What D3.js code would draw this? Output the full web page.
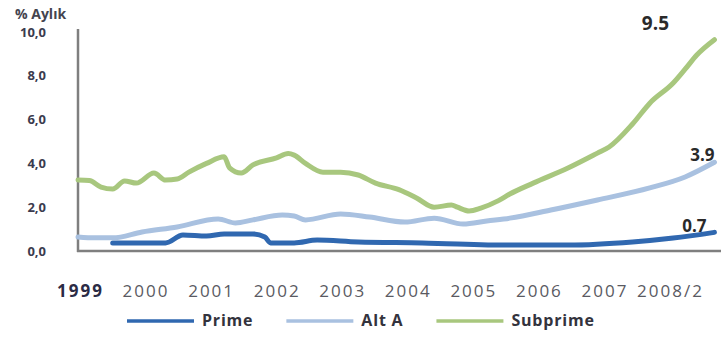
<!DOCTYPE html>
<html>
<head>
<meta charset="utf-8">
<script src="https://cdn.jsdelivr.net/npm/d3@7"></script>
<style>
  body { margin: 0; background: #fff; }
  svg { display: block; font-family: "Open Sans", sans-serif; }
</style>
</head>
<body>
<svg width="721" height="338"></svg>
<script>
// monthly readings (approximate), "YYYY-MM" -> % aylik
const subprime = [
  ["1999-01", 3.24], ["1999-03", 3.22], ["1999-05", 2.92], ["1999-07", 2.83], ["1999-09", 3.2],
  ["1999-11", 3.1], ["2000-02", 3.56], ["2000-04", 3.24], ["2000-06", 3.29], ["2000-08", 3.6],
  ["2000-11", 4.0], ["2001-02", 4.3], ["2001-03", 3.8], ["2001-05", 3.56], ["2001-07", 3.93],
  ["2001-11", 4.25], ["2002-01", 4.45], ["2002-02", 4.38], ["2002-04", 4.0], ["2002-07", 3.6],
  ["2002-10", 3.6], ["2003-01", 3.47], ["2003-04", 3.1], ["2003-08", 2.8], ["2003-11", 2.42],
  ["2004-02", 2.0], ["2004-05", 2.1], ["2004-06", 2.0], ["2004-08", 1.83], ["2004-10", 1.96],
  ["2005-01", 2.3], ["2005-03", 2.6], ["2005-07", 3.1], ["2006-01", 3.8], ["2006-06", 4.47],
  ["2006-08", 4.75], ["2006-12", 5.8], ["2007-03", 6.75], ["2007-07", 7.67], ["2007-09", 8.3],
  ["2007-11", 8.95], ["2008-02", 9.65]
];
const altA = [
  ["1999-01", 0.64], ["1999-04", 0.6], ["1999-07", 0.6], ["1999-12", 0.87], ["2000-06", 1.1],
  ["2001-01", 1.46], ["2001-04", 1.28], ["2001-07", 1.42], ["2001-12", 1.64], ["2002-02", 1.6],
  ["2002-04", 1.42], ["2002-10", 1.69], ["2003-03", 1.55], ["2003-09", 1.32], ["2004-02", 1.5],
  ["2004-07", 1.23], ["2004-11", 1.37], ["2005-03", 1.5], ["2005-10", 1.87], ["2006-06", 2.33],
  ["2007-03", 2.88], ["2007-09", 3.38], ["2008-02", 4.05]
];
const prime = [
  ["1999-07", 0.37], ["2000-04", 0.37], ["2000-07", 0.73], ["2000-11", 0.68], ["2001-02", 0.78],
  ["2001-07", 0.78], ["2001-09", 0.64], ["2001-10", 0.37], ["2002-02", 0.37], ["2002-06", 0.5],
  ["2003-01", 0.41], ["2003-12", 0.37], ["2005-03", 0.27], ["2006-01", 0.27], ["2006-12", 0.41],
  ["2007-07", 0.59], ["2008-02", 0.85]
];

const seriesNames = ["Prime", "Alt A", "Subprime"];
const seriesColors = ["#3068b0", "#a9c1e0", "#a8c77e"];
const endLabels = ["0.7", "3.9", "9.5"];
const yTicks = [0, 2, 4, 6, 8, 10];
const yearLabels = ["1999", "2000", "2001", "2002", "2003", "2004", "2005", "2006", "2007", "2008/2"];
const yTitle = "% Aylık";

const parse = d3.timeParse("%Y-%m");
const svg = d3.select("svg");
const plotLeft = 78, plotRight = 720, plotBottom = 251, plotTop = 32;

const x = d3.scaleTime().domain([parse("1999-01"), parse("2008-03")]).range([plotLeft, plotRight]);
const y = d3.scaleLinear().domain([0, 10]).range([plotBottom, plotTop]);
const xLab = d3.scalePoint().domain(yearLabels).range([80, 670]);

const trLocale = d3.formatLocale({decimal: ",", thousands: ".", grouping: [3], currency: ["", ""]});

// y axis labels
svg.append("g")
    .attr("transform", `translate(${plotLeft},0)`)
    .call(d3.axisLeft(y).tickValues(yTicks).tickSize(0).tickPadding(32).tickFormat(trLocale.format(".1f")))
    .call(g => g.select(".domain").remove())
    .selectAll("text")
    .attr("font-family", "Open Sans, sans-serif")
    .attr("font-size", 13)
    .attr("font-weight", 700)
    .attr("fill", "#3b3b4e");

// x labels
svg.append("g")
    .attr("transform", `translate(0,${plotBottom})`)
    .call(d3.axisBottom(xLab).tickSize(0).tickPadding(34))
    .call(g => g.select(".domain").remove())
    .selectAll("text")
    .attr("font-family", "Open Sans, sans-serif")
    .attr("font-size", 17)
    .attr("letter-spacing", 2)
    .attr("fill", (d, i) => i === 0 ? "#2b2b45" : "#5a5a62")
    .attr("font-weight", (d, i) => i === 0 ? 700 : 400);

// axis frame
svg.append("line").attr("x1", plotLeft).attr("x2", plotLeft).attr("y1", 29).attr("y2", plotBottom + 1)
    .attr("stroke", "#7f7f7f").attr("stroke-width", 2.5);
svg.append("line").attr("x1", plotLeft - 1).attr("x2", 721).attr("y1", plotBottom).attr("y2", plotBottom)
    .attr("stroke", "#7f7f7f").attr("stroke-width", 2.5);

svg.append("text")
    .attr("x", 15).attr("y", 19)
    .attr("font-size", 14).attr("font-weight", 700).attr("fill", "#44444f")
    .text(yTitle);

const line = d3.line()
    .x(d => x(parse(d[0])))
    .y(d => y(d[1]))
    .curve(d3.curveMonotoneX);

const allSeries = [prime, altA, subprime];
allSeries.forEach((s, i) => {
    svg.append("path")
        .datum(s)
        .attr("d", line)
        .attr("fill", "none")
        .attr("stroke", seriesColors[i])
        .attr("stroke-width", 5)
        .attr("stroke-linejoin", "round")
        .attr("stroke-linecap", "round");
});

// end value labels
const labelOffset = [[-20, 0], [-12, -1], [-59, -10]];
allSeries.forEach((s, i) => {
    const last = s[s.length - 1];
    svg.append("text")
        .attr("x", x(parse(last[0])) + labelOffset[i][0])
        .attr("y", y(last[1]) + labelOffset[i][1])
        .attr("text-anchor", "middle")
        .attr("font-size", i === 2 ? 19 : 17)
        .attr("font-weight", 700)
        .attr("fill", "#2a2a2a")
        .text(endLabels[i]);
});

// legend
const legend = svg.append("g").attr("transform", "translate(127,321)");
let lx = 0;
seriesNames.forEach((name, i) => {
    legend.append("line")
        .attr("x1", lx).attr("x2", lx + 67).attr("y1", 0).attr("y2", 0)
        .attr("stroke", seriesColors[i]).attr("stroke-width", 3.5);
    const t = legend.append("text")
        .attr("x", lx + 75).attr("y", 5)
        .attr("font-size", 16).attr("font-weight", 700).attr("fill", "#33333d")
        .attr("letter-spacing", 0.8)
        .text(name);
    lx += 75 + t.node().getComputedTextLength() + 33;
});
</script>
</body>
</html>
